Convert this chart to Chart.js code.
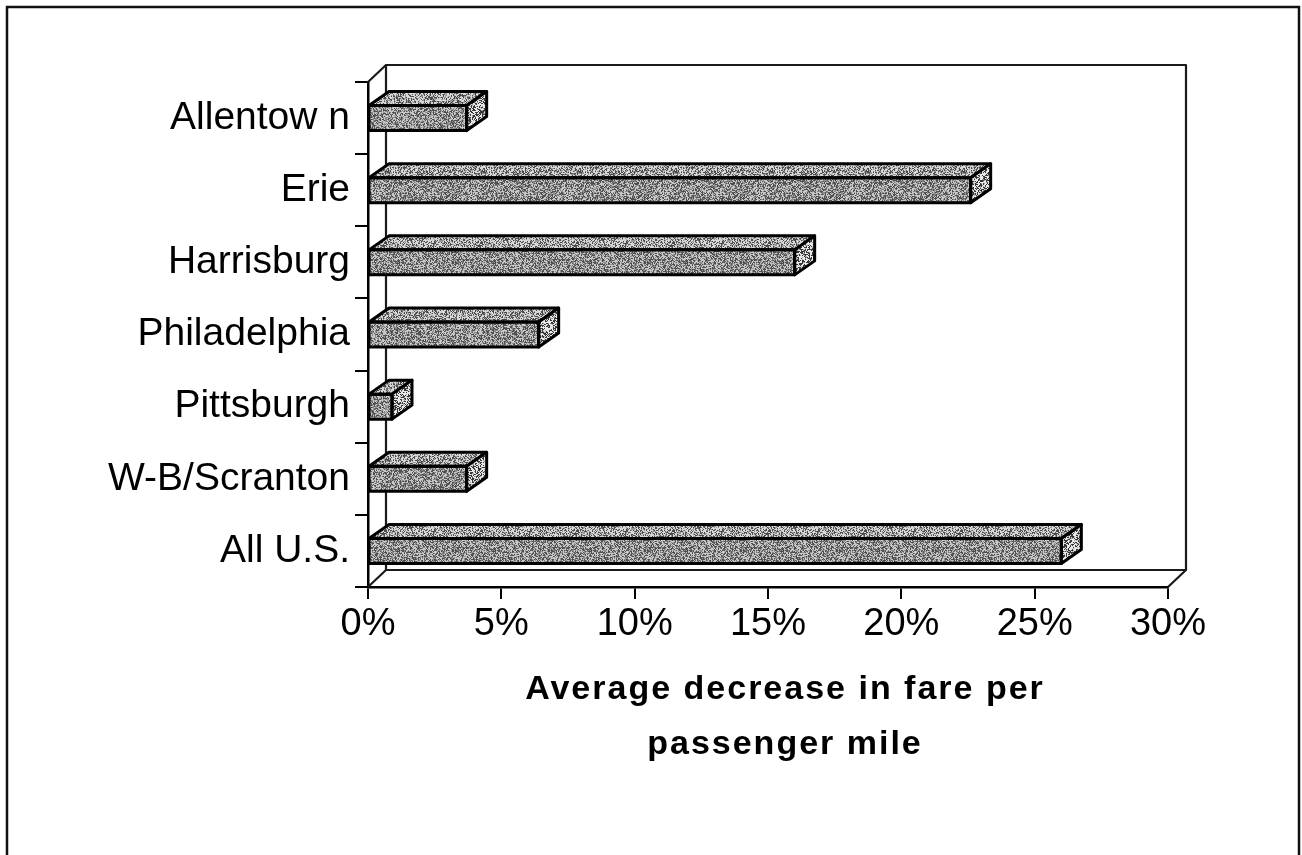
<!DOCTYPE html>
<html>
<head>
<meta charset="utf-8">
<script src="https://cdn.jsdelivr.net/npm/chart.js@4.4.1/dist/chart.umd.min.js"></script>
<style>
  html, body { margin: 0; padding: 0; background: #ffffff; }
  #wrap { width: 1302px; height: 855px; position: relative; }
</style>
</head>
<body>
<div id="wrap"><canvas id="chart" width="1302" height="855"></canvas></div>
<script>
// Chart data
const categories = ['Allentow n', 'Erie', 'Harrisburg', 'Philadelphia', 'Pittsburgh', 'W-B/Scranton', 'All U.S.'];
const fareDecrease = [3.7, 22.6, 16.0, 6.4, 0.9, 3.7, 26.0];
const tickValues = [0, 5, 10, 15, 20, 25, 30];
const axisTitle = ['Average decrease in fare per', 'passenger mile'];

const FONT = '"Liberation Sans", Arial, sans-serif';
const WALL_DX = 18, WALL_DY = 17;   // depth of the chart box
const BAR_DX = 20, BAR_DY = 14;     // depth of each bar

// Stippled grey fills for the bar faces
function hash(x, y, s) {
  let h = Math.imul(x + 1013, 374761393) ^ Math.imul(y + 7919, 668265263) ^ Math.imul(s, 2246822519);
  h = Math.imul(h ^ (h >>> 13), 1274126177);
  h ^= h >>> 16;
  return (h >>> 0) / 4294967296;
}
function stipple(seed, levels) {
  const n = 96;
  const c = document.createElement('canvas');
  c.width = n; c.height = n;
  const g = c.getContext('2d');
  const img = g.createImageData(n, n);
  for (let y = 0; y < n; y++) {
    for (let x = 0; x < n; x++) {
      const v = hash(x, y, seed);
      let k = levels[levels.length - 1][1];
      for (const [t, col] of levels) { if (v < t) { k = col; break; } }
      const i = (y * n + x) * 4;
      img.data[i] = img.data[i + 1] = img.data[i + 2] = k;
      img.data[i + 3] = 255;
    }
  }
  g.putImageData(img, 0, 0);
  return g.createPattern(c, 'repeat');
}
const ctx0 = document.getElementById('chart').getContext('2d');
const frontFill = stipple(1, [[0.34, 80], [0.62, 140], [1.0, 200]]);
const topFill   = stipple(2, [[0.32, 75], [0.54, 150], [1.0, 215]]);
const sideFill  = stipple(3, [[0.40, 55], [0.50, 160], [1.0, 232]]);

const boxPlugin = {
  id: 'box3d',
  beforeDraw(chart) {
    const ctx = chart.ctx;
    ctx.save();
    ctx.fillStyle = '#ffffff';
    ctx.fillRect(0, 0, chart.width, chart.height);
    // outer frame
    ctx.strokeStyle = '#111';
    ctx.lineWidth = 2.5;
    ctx.strokeRect(7, 7, 1292, 870);
    ctx.restore();
  },
  beforeDatasetsDraw(chart) {
    const { left, right, top, bottom } = chart.chartArea;
    const ctx = chart.ctx;
    ctx.save();
    ctx.strokeStyle = '#1a1a1a';
    ctx.lineWidth = 2.2;
    ctx.lineJoin = 'round';
    // back wall
    ctx.strokeRect(left + WALL_DX, top - WALL_DY, right - left, bottom - top);
    // side and floor edges
    ctx.beginPath();
    ctx.moveTo(left, top); ctx.lineTo(left + WALL_DX, top - WALL_DY);
    ctx.moveTo(left, bottom); ctx.lineTo(left + WALL_DX, bottom - WALL_DY);
    ctx.moveTo(right, bottom); ctx.lineTo(right + WALL_DX, bottom - WALL_DY);
    ctx.stroke();
    ctx.restore();
  },
  afterDatasetsDraw(chart) {
    const ctx = chart.ctx;
    const meta = chart.getDatasetMeta(0);
    ctx.save();
    ctx.strokeStyle = '#000';
    ctx.lineWidth = 3;
    ctx.lineJoin = 'round';
    meta.data.forEach(el => {
      const { x, y, base, height } = el.getProps(['x', 'y', 'base', 'height'], true);
      const t = y - height / 2, b = y + height / 2;
      // top face
      ctx.beginPath();
      ctx.moveTo(base, t);
      ctx.lineTo(base + BAR_DX, t - BAR_DY);
      ctx.lineTo(x + BAR_DX, t - BAR_DY);
      ctx.lineTo(x, t);
      ctx.closePath();
      ctx.fillStyle = topFill;
      ctx.fill();
      ctx.stroke();
      // end face
      ctx.beginPath();
      ctx.moveTo(x, t);
      ctx.lineTo(x + BAR_DX, t - BAR_DY);
      ctx.lineTo(x + BAR_DX, b - BAR_DY);
      ctx.lineTo(x, b);
      ctx.closePath();
      ctx.fillStyle = sideFill;
      ctx.fill();
      ctx.stroke();
      // front face outline
      ctx.strokeRect(base, t, x - base, height);
    });
    ctx.restore();
  },
  afterDraw(chart) {
    const ctx = chart.ctx;
    ctx.save();
    ctx.fillStyle = '#000';
    ctx.font = 'bold 34px ' + FONT;
    if ('letterSpacing' in ctx) ctx.letterSpacing = '2px';
    ctx.textAlign = 'center';
    ctx.textBaseline = 'middle';
    ctx.fillText(axisTitle[0], 785, 690);
    ctx.fillText(axisTitle[1], 785, 745);
    ctx.restore();
  }
};

new Chart(ctx0, {
  type: 'bar',
  data: {
    labels: categories,
    datasets: [{
      data: fareDecrease,
      backgroundColor: frontFill,
      borderColor: '#000',
      borderWidth: 0,
      barThickness: 25
    }]
  },
  plugins: [boxPlugin],
  options: {
    indexAxis: 'y',
    responsive: false,
    animation: false,
    layout: { padding: { left: 0, right: 134, top: 82, bottom: 0 } },
    plugins: { legend: { display: false }, tooltip: { enabled: false } },
    scales: {
      x: {
        type: 'linear',
        min: 0,
        max: 30,
        afterBuildTicks(scale) { scale.ticks = tickValues.map(v => ({ value: v })); },
        afterFit(scale) { scale.height = 268; },
        border: { display: true, color: '#000', width: 2.5 },
        grid: { drawOnChartArea: false, drawTicks: true, tickLength: 12, color: '#000', lineWidth: 2 },
        ticks: {
          color: '#000',
          font: { family: FONT, size: 38 },
          padding: 3,
          maxRotation: 0,
          callback: v => v + '%'
        }
      },
      y: {
        type: 'category',
        afterFit(scale) { scale.width = 368; },
        border: { display: true, color: '#000', width: 2.5 },
        grid: { drawOnChartArea: false, drawTicks: true, tickLength: 13, color: '#000', lineWidth: 2, offset: true },
        ticks: {
          color: '#000',
          font: { family: FONT, size: 39 },
          padding: 5
        }
      }
    }
  }
});
</script>
</body>
</html>
